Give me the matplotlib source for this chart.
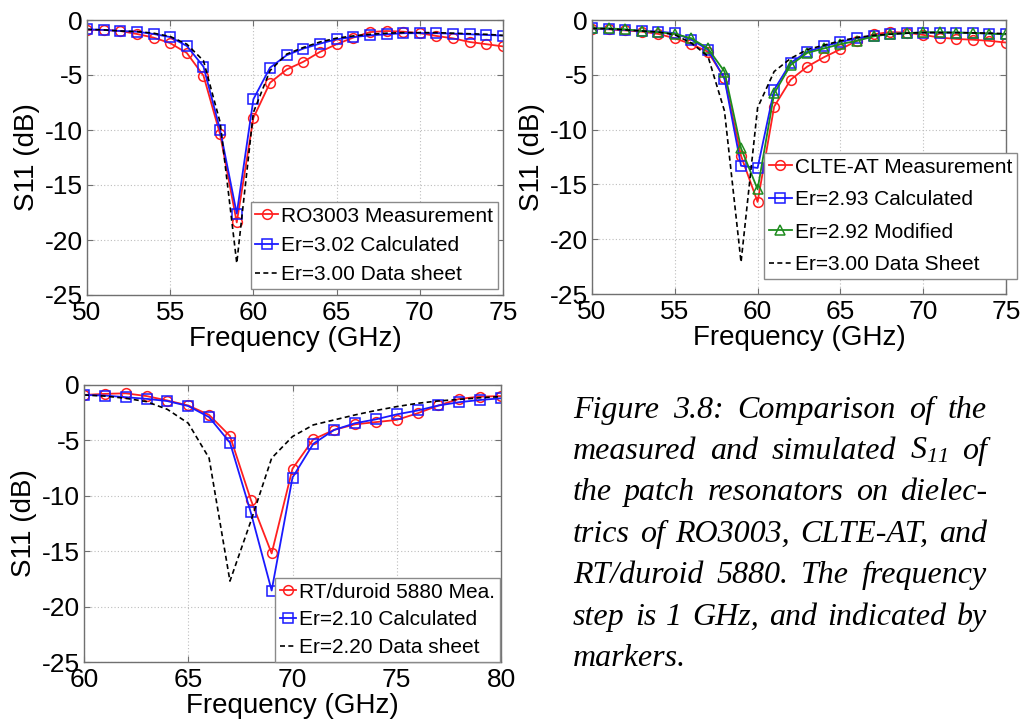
import numpy as np
import matplotlib
matplotlib.use("Agg")
import matplotlib.pyplot as plt

plt.rcParams['font.family'] = ['Liberation Sans', 'DejaVu Sans']
plt.rcParams['axes.unicode_minus'] = False
plt.rcParams['mathtext.fontset'] = 'custom'
plt.rcParams['mathtext.it'] = 'Liberation Serif:italic'
plt.rcParams['mathtext.rm'] = 'Liberation Serif:italic'
plt.rcParams['mathtext.default'] = 'it'

# ---------------- data ----------------
freq_a = list(range(50, 76))
ro3003_meas = [-0.9, -0.9, -1.0, -1.27, -1.6, -2.1, -3.0, -5.06, -10.4, -18.4, -8.9, -5.7, -4.5,
               -3.8, -2.9, -2.2, -1.6, -1.1, -1.0, -1.06, -1.2, -1.45, -1.67, -2.0, -2.2, -2.4]
ro3003_calc = [-0.85, -0.9, -1.0, -1.06, -1.27, -1.55, -2.36, -4.24, -10.0, -17.6, -7.2, -4.33, -3.2,
               -2.6, -2.15, -1.75, -1.55, -1.4, -1.3, -1.2, -1.2, -1.2, -1.24, -1.3, -1.36, -1.42]
ro3003_sheet = [-0.85, -0.9, -1.0, -1.05, -1.2, -1.5, -2.2, -3.7, -9.3, -22.1, -8.4, -4.6, -3.1,
                -2.5, -2.0, -1.65, -1.45, -1.3, -1.2, -1.15, -1.15, -1.15, -1.2, -1.25, -1.3, -1.4]

clte_meas = [-0.8, -0.85, -0.95, -1.06, -1.27, -1.67, -2.2, -2.9, -5.3, -12.4, -16.6, -7.9, -5.45,
             -4.25, -3.4, -2.67, -1.9, -1.3, -1.1, -1.15, -1.36, -1.6, -1.73, -1.8, -1.9, -2.06]
clte_calc = [-0.76, -0.82, -0.9, -1.0, -1.06, -1.2, -1.8, -2.7, -5.36, -13.3, -13.5, -6.36, -3.9,
             -2.9, -2.4, -2.0, -1.67, -1.45, -1.27, -1.2, -1.15, -1.15, -1.15, -1.18, -1.24, -1.3]
clte_mod = [-0.76, -0.76, -0.85, -1.0, -1.12, -1.27, -1.67, -2.6, -4.7, -11.7, -15.45, -6.7, -4.1,
            -3.0, -2.6, -2.2, -1.9, -1.5, -1.27, -1.2, -1.12, -1.12, -1.15, -1.18, -1.24, -1.3]
clte_sheet = [-0.76, -0.8, -0.9, -1.0, -1.1, -1.35, -2.1, -3.3, -8.3, -22.1, -8.0, -4.7, -3.5,
              -2.7, -2.3, -1.9, -1.6, -1.4, -1.3, -1.2, -1.15, -1.15, -1.15, -1.18, -1.2, -1.25]

freq_b = list(range(60, 81))
duroid_meas = [-0.9, -0.8, -0.75, -1.0, -1.4, -1.85, -2.7, -4.6, -10.35, -15.2, -7.55,
               -4.9, -4.05, -3.55, -3.35, -3.15, -2.55, -1.85, -1.25, -1.05, -1.0]
duroid_calc = [-0.9, -0.95, -1.1, -1.25, -1.45, -1.9, -2.9, -5.2, -11.5, -18.55, -8.35,
               -5.3, -4.05, -3.45, -3.1, -2.65, -2.3, -1.85, -1.55, -1.35, -1.2]
duroid_sheet = [-0.9, -1.0, -1.2, -1.5, -2.2, -3.45, -6.6, -17.7, -12.3, -6.6, -4.65,
                -3.6, -3.15, -2.7, -2.3, -1.95, -1.65, -1.44, -1.3, -1.15, -1.05]

yticks = [0, -5, -10, -15, -20, -25]
xticks_a = [50, 55, 60, 65, 70, 75]
xticks_b = [60, 65, 70, 75, 80]

legend_a = ["RO3003 Measurement", "Er=3.02 Calculated", "Er=3.00 Data sheet"]
legend_b = ["CLTE-AT Measurement", "Er=2.93 Calculated", "Er=2.92 Modified", "Er=3.00 Data Sheet"]
legend_c = ["RT/duroid 5880 Mea.", "Er=2.10 Calculated", "Er=2.20 Data sheet"]

caption_lines = [
    "Figure 3.8: Comparison of the",
    "measured and simulated $S_{11}$ of",
    "the patch resonators on dielec-",
    "trics of RO3003, CLTE-AT, and",
    "RT/duroid 5880. The frequency",
    "step is 1 GHz, and indicated by",
    "markers.",
]

# ---------------- figure ----------------
W, H = 1022, 720
fig = plt.figure(figsize=(W / 100, H / 100), dpi=100)


def px_axes(x0, y0, x1, y1):
    return fig.add_axes([x0 / W, 1 - y1 / H, (x1 - x0) / W, (y1 - y0) / H])


RED = '#ff2020'
BLUE = '#1a1aff'
GREEN = '#1e8c1e'
FRAME = '#707070'


def style(ax, xticks, xlim):
    ax.set_xlim(*xlim)
    ax.set_ylim(-25, 0)
    ax.set_xticks(xticks)
    ax.set_yticks(yticks)
    ax.tick_params(direction='in', length=4, width=0.8, color=FRAME, labelsize=19,
                   top=True, right=True, pad=4)
    ax.tick_params(axis='y', pad=3)
    for s in ax.spines.values():
        s.set_color(FRAME)
        s.set_linewidth(1.0)
    ax.grid(True, linestyle=(0, (1, 2)), color='#bdbdbd', linewidth=0.8)
    ax.set_xlabel("Frequency (GHz)", fontsize=20, labelpad=1)
    ax.set_ylabel("S11 (dB)", fontsize=20, labelpad=2)


def meas(ax, x, y, label, color, marker):
    ax.plot(x, y, color=color, marker=marker, markerfacecolor='none', markeredgecolor=color,
            markersize=7, markeredgewidth=1.1, linewidth=1.3, label=label)


leg_kw = dict(fontsize=15, handletextpad=0.15,
              borderpad=0.22, borderaxespad=0, fancybox=False, edgecolor='#8a8a8a',
              framealpha=1, loc='upper right', bbox_transform=fig.transFigure)

# panel A
ax1 = px_axes(87, 20, 503, 295)
meas(ax1, freq_a, ro3003_meas, legend_a[0], RED, 'o')
meas(ax1, freq_a, ro3003_calc, legend_a[1], BLUE, 's')
ax1.plot(freq_a, ro3003_sheet, 'k--', linewidth=1.2, dashes=(3, 2), label=legend_a[2])
style(ax1, xticks_a, (50, 75))
ax1.legend(bbox_to_anchor=(498 / W, 1 - 202 / H), handlelength=1.1, labelspacing=0.5, **leg_kw)

# panel B
ax2 = px_axes(592, 20, 1006, 294)
meas(ax2, freq_a, clte_meas, legend_b[0], RED, 'o')
meas(ax2, freq_a, clte_calc, legend_b[1], BLUE, 's')
meas(ax2, freq_a, clte_mod, legend_b[2], GREEN, '^')
ax2.plot(freq_a, clte_sheet, 'k--', linewidth=1.2, dashes=(3, 2), label=legend_b[3])
style(ax2, xticks_a, (50, 75))
ax2.legend(bbox_to_anchor=(1017 / W, 1 - 153 / H), handlelength=1.1, labelspacing=0.65, **leg_kw)

# panel C
ax3 = px_axes(84, 385, 501, 662)
meas(ax3, freq_b, duroid_meas, legend_c[0], RED, 'o')
meas(ax3, freq_b, duroid_calc, legend_c[1], BLUE, 's')
ax3.plot(freq_b, duroid_sheet, 'k--', linewidth=1.2, dashes=(3, 2), label=legend_c[2])
style(ax3, xticks_b, (60, 80))
ax3.legend(bbox_to_anchor=(500 / W, 1 - 578 / H), handlelength=0.8, labelspacing=0.42, **leg_kw)

for ax in (ax1, ax2, ax3):
    ax.yaxis.set_label_coords(-47 / (ax.get_position().width * W), 0.5)

# ---------------- caption (justified) ----------------
cap_x0, cap_x1 = 573, 987
baselines = [418, 459, 500, 542, 583, 625, 666]
cap_font = dict(family=['Liberation Serif', 'DejaVu Serif'], style='italic', fontsize=23)
renderer = fig.canvas.get_renderer()
for i, (line, yb) in enumerate(zip(caption_lines, baselines)):
    words = line.split(' ')
    objs = [fig.text(0, 1 - yb / H, w, ha='left', va='baseline', **cap_font) for w in words]
    widths = [o.get_window_extent(renderer).width for o in objs]
    if i == len(caption_lines) - 1:
        gap = 6
    else:
        gap = (cap_x1 - cap_x0 - sum(widths)) / (len(words) - 1)
    x = cap_x0
    for o, w in zip(objs, widths):
        o.set_x(x / W)
        x += w + gap

fig.savefig("out.png", dpi=100)
